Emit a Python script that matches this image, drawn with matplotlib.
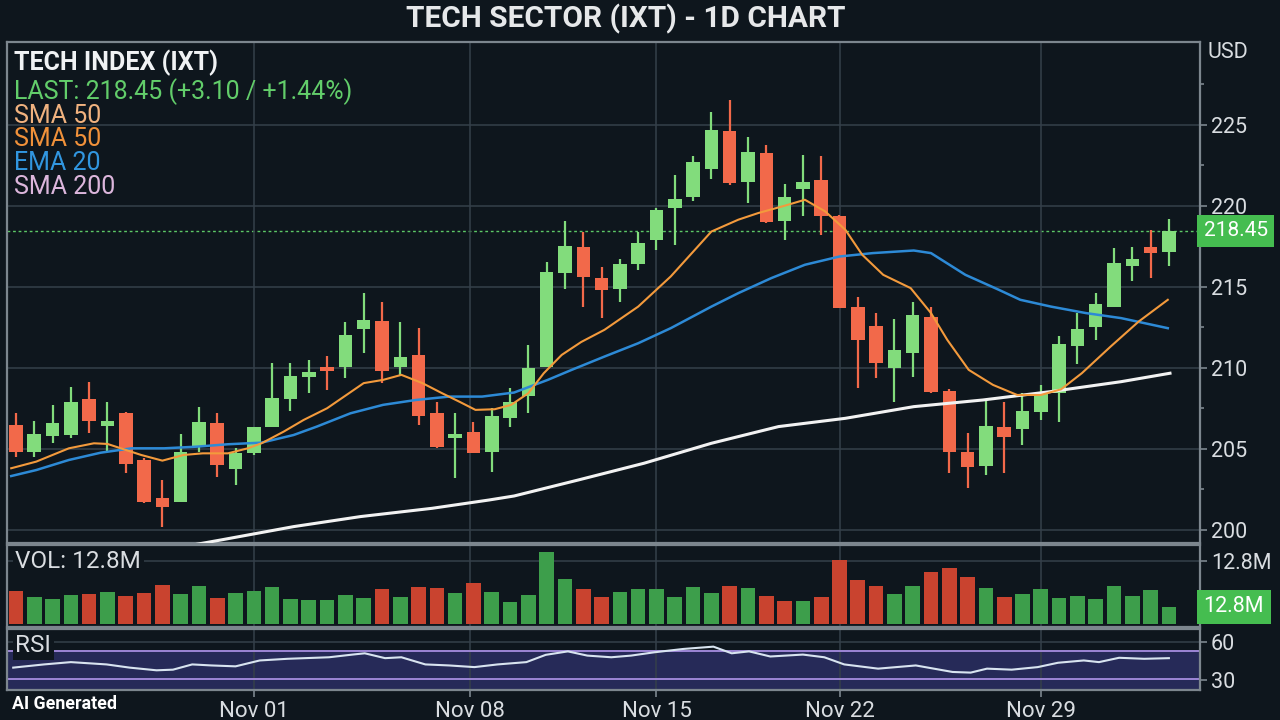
import numpy as np
import matplotlib
matplotlib.use('Agg')
import matplotlib.pyplot as plt

plt.rcParams['font.family'] = ['Roboto', 'DejaVu Sans']

# daily candles
opens = [206.48, 204.83, 205.82, 205.86, 208.09, 206.44, 207.20, 204.32, 202.00, 201.75,
         205.14, 206.59, 203.75, 204.73, 206.38, 208.07, 209.46, 210.08, 210.04, 212.39,
         212.92, 210.08, 210.80, 207.24, 205.66, 206.03, 204.80, 206.90, 208.27, 210.08,
         215.85, 217.43, 215.54, 214.86, 216.42, 217.86, 219.86, 220.54, 222.27, 224.63,
         221.44, 223.25, 219.03, 221.03, 221.56, 219.34, 213.75, 212.61, 209.98, 210.91,
         213.13, 208.58, 204.80, 203.95, 206.34, 206.22, 207.30, 208.44, 211.32, 212.51,
         213.75, 216.30, 217.43, 217.14]
highs = [207.22, 206.75, 207.72, 208.81, 209.15, 207.92, 207.30, 204.42, 203.09, 205.91,
         207.61, 207.20, 205.04, 206.38, 210.33, 210.33, 210.49, 210.74, 212.86, 214.61,
         214.09, 212.80, 212.49, 207.92, 207.20, 206.69, 207.51, 208.75, 211.42, 216.56,
         219.03, 218.41, 216.25, 216.71, 218.41, 219.85, 221.91, 223.04, 225.76, 226.54,
         224.24, 223.77, 221.36, 223.15, 223.04, 219.44, 214.40, 213.38, 213.01, 214.09,
         213.75, 208.68, 205.97, 208.02, 207.92, 208.44, 208.95, 211.98, 213.38, 214.61,
         217.39, 217.45, 218.48, 219.18]
lows = [204.53, 204.53, 205.35, 205.66, 205.97, 204.83, 203.50, 201.65, 200.20, 201.75,
        204.83, 203.29, 202.78, 204.63, 206.38, 207.37, 208.48, 208.64, 209.36, 210.94,
        209.06, 209.57, 206.48, 205.04, 203.19, 204.73, 203.60, 206.38, 207.20, 210.08,
        214.86, 213.78, 213.07, 214.09, 216.05, 217.28, 217.59, 220.27, 221.65, 221.30,
        220.20, 218.93, 217.86, 219.38, 218.21, 213.68, 208.75, 209.36, 207.92, 209.43,
        208.44, 203.54, 202.57, 203.40, 203.50, 205.25, 206.79, 206.69, 210.25, 211.73,
        213.75, 215.33, 215.54, 216.31]
closes = [204.83, 205.93, 206.59, 207.88, 206.75, 206.75, 204.07, 201.75, 201.44, 204.83,
          206.65, 204.01, 204.73, 206.38, 208.13, 209.51, 209.77, 209.83, 212.00, 212.96,
          209.83, 210.70, 207.04, 205.10, 205.93, 204.77, 207.06, 207.92, 210.02, 215.94,
          217.49, 215.60, 214.81, 216.42, 217.73, 219.75, 220.43, 222.67, 224.65, 221.40,
          223.29, 218.97, 220.51, 221.44, 219.34, 213.68, 211.73, 210.33, 211.11, 213.27,
          208.50, 204.80, 203.91, 206.42, 205.72, 207.37, 208.44, 211.48, 212.41, 213.95,
          216.46, 216.71, 217.08, 218.45]

# volume in millions and its bar colour (G = green, R = red)
volume = [6.77, 5.43, 5.08, 5.89, 6.03, 6.44, 5.69, 6.36, 7.86, 6.10,
          7.72, 5.34, 6.24, 6.77, 7.58, 5.14, 4.82, 4.82, 5.89, 5.34,
          7.17, 5.49, 7.46, 7.32, 6.30, 8.27, 6.56, 4.41, 5.89, 14.63,
          9.14, 7.05, 5.55, 6.44, 7.05, 7.11, 5.43, 7.58, 6.24, 7.66,
          7.32, 5.69, 4.67, 4.73, 5.43, 13.00, 8.94, 7.78, 6.10, 7.72,
          10.63, 11.32, 9.49, 7.38, 5.55, 6.03, 7.11, 5.22, 5.75, 5.02,
          7.78, 5.69, 6.91, 3.52]
vol_up = "RGGGRGRRRGGRGGGGGGGGRGRRGRGGGGGRRGGGGGGRGRRGRRRRGGRRRGRGGGGGGGGG"

# moving averages: (candle index, price)
sma50_x = [-0.26, 1.11, 2.89, 4.26, 5.0, 6.0, 6.84, 8.0, 9.16, 10.21, 11.58, 12.67, 13.42,
           14.63, 15.72, 17.0, 19.0, 20.06, 21.06, 22.21, 23.28, 24.22, 25.11, 26.16, 27.06,
           28.0, 28.84, 29.82, 30.89, 32.16, 34.0, 35.78, 38.0, 39.47, 40.56, 42.0, 43.11,
           44.22, 45.32, 46.24, 47.39, 48.89, 50.0, 50.89, 52.06, 53.39, 54.71, 56.0, 57.11,
           58.24, 59.82, 61.35, 62.94]
sma50_y = [203.81, 204.22, 205.04, 205.35, 205.31, 204.94, 204.63, 204.28, 204.63, 204.73,
           204.73, 205.04, 205.35, 206.07, 206.79, 207.51, 209.06, 209.26, 209.57, 209.06,
           208.44, 207.92, 207.41, 207.45, 207.72, 208.44, 209.67, 210.80, 211.60, 212.35,
           213.78, 215.64, 218.41, 219.14, 219.55, 220.00, 220.37, 219.65, 218.52, 216.98,
           215.74, 214.92, 213.38, 211.73, 209.88, 208.95, 208.33, 208.33, 208.68, 209.67,
           211.32, 212.86, 214.20]
ema20_x = [-0.26, 1.11, 2.89, 4.63, 6.32, 8.11, 9.84, 11.58, 13.42, 15.17, 16.44, 18.28,
           20.06, 21.84, 23.67, 25.47, 27.22, 29.06, 30.37, 32.16, 34.0, 35.78, 38.0, 39.47,
           41.28, 43.11, 45.0, 46.82, 49.06, 50.0, 51.88, 53.72, 54.88, 56.56, 58.47, 60.39,
           62.94]
ema20_y = [203.33, 203.70, 204.32, 204.77, 205.04, 205.04, 205.14, 205.29, 205.39, 205.86,
           206.38, 207.20, 207.72, 208.02, 208.23, 208.23, 208.48, 209.26, 209.88, 210.70,
           211.52, 212.45, 213.78, 214.61, 215.54, 216.36, 216.87, 217.08, 217.24, 217.08,
           215.74, 214.81, 214.20, 213.78, 213.38, 213.07, 212.45]
sma200_x = [8.79, 11.26, 15.17, 18.83, 22.74, 25.84, 27.22, 30.74, 34.32, 38.0, 41.67,
            45.32, 49.06, 52.83, 56.56, 60.39, 63.06]
sma200_y = [198.90, 199.40, 200.21, 200.83, 201.34, 201.85, 202.10, 203.09, 204.12, 205.35,
            206.38, 206.89, 207.61, 208.02, 208.54, 209.15, 209.67]

# RSI line
rsi_x = [-0.15, 1.53, 3.0, 4.95, 6.21, 7.68, 8.58, 9.63, 10.68, 12.0, 13.32, 14.84, 17.11,
         18.39, 19.06, 20.17, 21.06, 22.37, 23.67, 25.05, 26.32, 27.89, 28.95, 30.16, 31.22,
         32.53, 33.61, 34.89, 36.47, 38.11, 39.11, 40.06, 41.22, 43.0, 44.17, 45.26, 47.11,
         49.17, 51.18, 52.17, 53.06, 54.41, 55.83, 56.94, 58.35, 59.18, 60.28, 61.65, 63.0]
rsi_y = [39.8, 42.3, 44.1, 42.3, 39.8, 37.7, 38.2, 42.3, 41.5, 40.8, 45.4, 46.7, 47.9,
         50.0, 51.0, 47.2, 47.9, 42.3, 41.5, 40.2, 42.3, 44.1, 49.8, 52.5, 49.2,
         47.9, 49.2, 51.8, 54.4, 56.2, 51.0, 52.5, 48.5, 50.0, 47.9, 42.3, 39.0,
         41.5, 36.4, 35.9, 39.0, 38.2, 40.2, 43.6, 45.4, 44.1, 47.5, 46.7, 47.2]
rsi_bands = [52.5, 30.8]

date_pos = [13.0, 24.8, 35.0, 45.05, 56.0]
date_labels = ['Nov 01', 'Nov 08', 'Nov 15', 'Nov 22', 'Nov 29']
last_price = 218.45

bg = '#0e161d'
grid_c = '#35404a'
spine_c = '#7c868e'
txt_c = '#d9dde1'
up_c, down_c = '#82dc7c', '#f2694a'

fig = plt.figure(figsize=(12.8, 7.2), dpi=100, facecolor=bg)
W, H = 1280, 720
ax = fig.add_axes([7 / W, 1 - 543 / H, 1193 / W, 501 / H])
ax_vol = fig.add_axes([7 / W, 1 - 627 / H, 1193 / W, 82 / H], sharex=ax)
ax_rsi = fig.add_axes([7 / W, 1 - 690 / H, 1193 / W, 61 / H], sharex=ax)

for a in (ax, ax_vol, ax_rsi):
    a.set_facecolor(bg)
    for s in a.spines.values():
        s.set_color(spine_c)
        s.set_linewidth(1.6)
    a.set_xticks(date_pos)
    a.grid(axis='x', color=grid_c, lw=1.1, zorder=0)
    a.tick_params(axis='y', which='both', left=False, labelleft=False, right=True,
                  labelright=True, colors=spine_c, labelcolor=txt_c, labelsize=15.5,
                  length=5, width=1.2, pad=3)
    a.tick_params(axis='x', bottom=False, labelbottom=False)
ax.set_xlim(-0.49, 64.70)

# --- price panel ---
o, h, l, c = map(np.array, (opens, highs, lows, closes))
x = np.arange(len(o))
cols = np.where(c >= o, up_c, down_c)
ax.vlines(x, l, h, colors=cols, lw=1.6, zorder=3)
ax.bar(x, np.maximum(np.abs(c - o), 0.12), bottom=np.minimum(o, c), width=0.74,
       color=cols, zorder=3)
ax.plot(sma200_x, sma200_y, color='#f2f2f2', lw=2.2, zorder=4)
ax.plot(ema20_x, ema20_y, color='#2d8ad6', lw=1.8, zorder=4)
ax.plot(sma50_x, sma50_y, color='#f39a3c', lw=1.5, zorder=4)
ax.axhline(last_price, color='#5cc866', lw=1, ls=(0, (2, 2)), zorder=1)

ax.set_ylim(199.2, 230.1)
ax.set_yticks(np.arange(200, 226, 5))
ax.set_yticks(np.arange(202.5, 230, 5), minor=True)
ax.tick_params(axis='y', which='minor', length=3)
ax.grid(axis='y', which='major', color=grid_c, lw=1.1, zorder=0)
ax.text(1.006, 0.979, 'USD', transform=ax.transAxes, color=txt_c, fontsize=15.5,
        ha='left', va='center')
ax.text(1.003, last_price, '218.45', transform=ax.get_yaxis_transform(), color='white',
        fontsize=15, ha='left', va='center',
        bbox=dict(boxstyle='square,pad=0.32', fc='#45bd50', ec='none'))

# --- volume panel ---
vcols = ['#3d9e4b' if u == 'G' else '#c9432f' for u in vol_up]
ax_vol.bar(x, volume, width=0.8, color=vcols, zorder=3)
ax_vol.set_ylim(-0.6, 16.05)
ax_vol.set_yticks([12.8])
ax_vol.set_yticklabels(['12.8M'])
ax_vol.grid(axis='y', color=grid_c, lw=1.1, zorder=0)
ax_vol.text(0.007, 12.8, 'VOL: 12.8M', transform=ax_vol.get_yaxis_transform(),
            color=txt_c, fontsize=17.5, ha='left', va='center', zorder=5,
            bbox=dict(boxstyle='square,pad=0.1', fc=bg, ec='none'))
ax_vol.text(1.003, volume[-1], '12.8M', transform=ax_vol.get_yaxis_transform(),
            color='white', fontsize=15.5, ha='left', va='center',
            bbox=dict(boxstyle='square,pad=0.3', fc='#45bd50', ec='none'))

# --- RSI panel ---
ax_rsi.set_ylim(22.3, 70)
ax_rsi.axhspan(22.3, rsi_bands[0], color='#262a58', zorder=1)
for b in rsi_bands:
    ax_rsi.axhline(b, color='#9d86d6', lw=1.4, zorder=2)
ax_rsi.axhline(60, color=grid_c, lw=1.1, zorder=1)
ax_rsi.plot(rsi_x, rsi_y, color='#d8e4f0', lw=1.5, zorder=4)
ax_rsi.set_yticks([30, 60])
ax_rsi.text(0.007, 57, 'RSI', transform=ax_rsi.get_yaxis_transform(), color=txt_c,
            fontsize=17.5, ha='left', va='center', zorder=5,
            bbox=dict(boxstyle='square,pad=0.1', fc=bg, ec='none'))
ax_rsi.set_xticklabels(date_labels)
ax_rsi.tick_params(axis='x', bottom=True, labelbottom=True, colors=spine_c,
                   labelcolor=txt_c, labelsize=16, length=5, width=1.2, pad=3)

# --- header and legend ---
fig.text(626 / W, 1 - 19 / H, 'TECH SECTOR (IXT) - 1D CHART', ha='center', va='center',
         color='#e6e8ea', fontsize=21.5, fontweight='bold')
legend = [('TECH INDEX (IXT)', '#f0f2f4', 63, 'bold'),
          ('LAST: 218.45 (+3.10 / +1.44%)', '#62cd6a', 92, 'normal'),
          ('SMA 50', '#f0b27f', 116, 'normal'),
          ('SMA 50', '#f0913a', 139, 'normal'),
          ('EMA 20', '#3196e0', 163, 'normal'),
          ('SMA 200', '#dcb6dc', 187, 'normal')]
for label, col, ypix, wt in legend:
    fig.text(14 / W, 1 - ypix / H, label, color=col, fontsize=18, fontweight=wt,
             ha='left', va='center')
fig.text(12 / W, 1 - 704 / H, 'AI Generated', color='white', fontsize=12.8,
         fontweight='bold', ha='left', va='center')

fig.savefig('out.png', dpi=100, facecolor=bg)
